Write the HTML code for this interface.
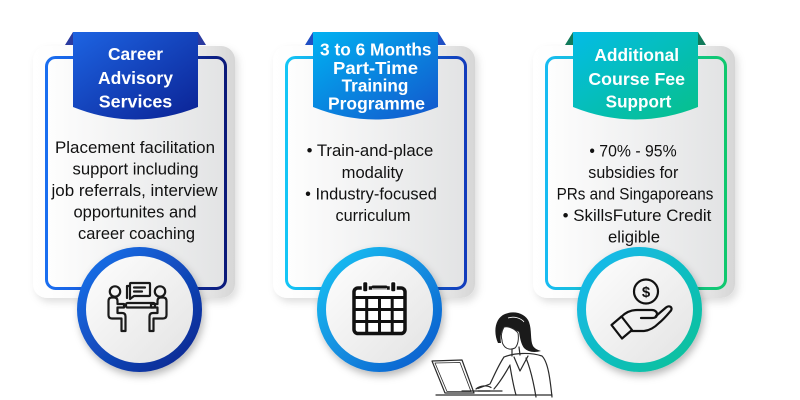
<!DOCTYPE html>
<html><head><meta charset="utf-8"><style>
html,body{margin:0;padding:0;background:#fff;}
svg{display:block;}
text{font-family:"Liberation Sans",Arial,sans-serif;}
</style></head><body>
<svg width="800" height="400" viewBox="0 0 800 400" xmlns="http://www.w3.org/2000/svg">
<defs>
  <linearGradient id="bp" x1="0" y1="0" x2="1" y2="0"><stop offset="0" stop-color="#ffffff"/><stop offset="0.55" stop-color="#f6f6f6"/><stop offset="0.85" stop-color="#e6e6e6"/><stop offset="1" stop-color="#d6d6d6"/></linearGradient>
  <linearGradient id="cf" x1="0" y1="0" x2="1" y2="0"><stop offset="0" stop-color="#fefefe"/><stop offset="1" stop-color="#e2e3e4"/></linearGradient>
  <linearGradient id="cif" x1="0" y1="0" x2="1" y2="1"><stop offset="0" stop-color="#ffffff"/><stop offset="1" stop-color="#e2e2e2"/></linearGradient>

  <linearGradient id="b1" x1="0" y1="0" x2="1" y2="0"><stop offset="0" stop-color="#1a6ef0"/><stop offset="0.55" stop-color="#1446c6"/><stop offset="1" stop-color="#0b1a7a"/></linearGradient>
  <linearGradient id="t1" x1="0" y1="0" x2="1" y2="1"><stop offset="0" stop-color="#1d64e2"/><stop offset="1" stop-color="#0b2294"/></linearGradient>
  <linearGradient id="r1" x1="0" y1="0" x2="1" y2="1"><stop offset="0" stop-color="#1a74ee"/><stop offset="1" stop-color="#0a238c"/></linearGradient>

  <linearGradient id="b2" x1="0" y1="0" x2="1" y2="0"><stop offset="0" stop-color="#14c6f6"/><stop offset="1" stop-color="#123cbc"/></linearGradient>
  <linearGradient id="t2" x1="0" y1="0" x2="1" y2="1"><stop offset="0" stop-color="#00b2f2"/><stop offset="1" stop-color="#1356cc"/></linearGradient>
  <linearGradient id="r2" x1="0" y1="0" x2="1" y2="1"><stop offset="0" stop-color="#14c4f4"/><stop offset="1" stop-color="#1058cc"/></linearGradient>

  <linearGradient id="b3" x1="0" y1="0" x2="1" y2="0"><stop offset="0" stop-color="#18bcf2"/><stop offset="1" stop-color="#10c86e"/></linearGradient>
  <linearGradient id="t3" x1="0" y1="0" x2="1" y2="1"><stop offset="0" stop-color="#04bce6"/><stop offset="1" stop-color="#06c08a"/></linearGradient>
  <linearGradient id="r3" x1="0" y1="0" x2="1" y2="1"><stop offset="0" stop-color="#1ab8f2"/><stop offset="1" stop-color="#05c296"/></linearGradient>

  <filter id="sh" x="-20%" y="-20%" width="140%" height="140%"><feDropShadow dx="3" dy="4" stdDeviation="4" flood-color="#000" flood-opacity="0.13"/></filter>
  <filter id="csh" x="-30%" y="-30%" width="160%" height="160%"><feDropShadow dx="2" dy="4" stdDeviation="4" flood-color="#000" flood-opacity="0.28"/></filter>
</defs>

<!-- CARD 1 -->
<g transform="translate(45,0)">
  <rect x="-12" y="46" width="202" height="252" rx="14" fill="url(#bp)" filter="url(#sh)"/>
  <rect x="1.5" y="57.5" width="179" height="231" rx="9" fill="url(#cf)" stroke="url(#b1)" stroke-width="3"/>
  <polygon points="20,45 28,32 28,45" fill="#2a3aa0"/>
  <polygon points="153,32 161,45 153,45" fill="#2a3aa0"/>
  <path d="M28,32 H153 V107 Q90.5,132 28,107 Z" fill="url(#t1)"/>
  <g fill="#fff" font-weight="bold" font-size="17.5" text-anchor="middle">
    <text x="90.5" y="60" textLength="55" lengthAdjust="spacingAndGlyphs">Career</text>
    <text x="90.5" y="84" textLength="75" lengthAdjust="spacingAndGlyphs">Advisory</text>
    <text x="90.5" y="107.5" textLength="73.5" lengthAdjust="spacingAndGlyphs">Services</text>
  </g>
  <g fill="#111" font-size="17" text-anchor="middle">
    <text x="90" y="153" textLength="160" lengthAdjust="spacingAndGlyphs">Placement facilitation</text>
    <text x="90.5" y="174.5" textLength="126" lengthAdjust="spacingAndGlyphs">support including</text>
    <text x="89.5" y="196" textLength="166" lengthAdjust="spacingAndGlyphs">job referrals, interview</text>
    <text x="90" y="217.5" textLength="123" lengthAdjust="spacingAndGlyphs">opportunites and</text>
    <text x="91.5" y="239" textLength="117" lengthAdjust="spacingAndGlyphs">career coaching</text>
  </g>
  <circle cx="94.5" cy="309.5" r="58" fill="url(#cif)" stroke="url(#r1)" stroke-width="9" filter="url(#csh)"/>
</g>

<!-- CARD 2 -->
<g transform="translate(285,0)">
  <rect x="-12" y="46" width="202" height="252" rx="14" fill="url(#bp)" filter="url(#sh)"/>
  <rect x="1.5" y="57.5" width="179" height="231" rx="9" fill="url(#cf)" stroke="url(#b2)" stroke-width="3"/>
  <polygon points="20,45 28,32 28,45" fill="#1f4fc4"/>
  <polygon points="153,32 161,45 153,45" fill="#1f4fc4"/>
  <path d="M28,32 H153 V107 Q90.5,132 28,107 Z" fill="url(#t2)"/>
  <g fill="#fff" font-weight="bold" font-size="17.5" text-anchor="middle">
    <text x="90.8" y="55.7" textLength="111.5" lengthAdjust="spacingAndGlyphs">3 to 6 Months</text>
    <text x="90.5" y="74" textLength="85" lengthAdjust="spacingAndGlyphs">Part-Time</text>
    <text x="90" y="91.7" textLength="66.7" lengthAdjust="spacingAndGlyphs">Training</text>
    <text x="91.5" y="109.3" textLength="97" lengthAdjust="spacingAndGlyphs">Programme</text>
  </g>
  <g fill="#111" font-size="17" text-anchor="middle">
    <text x="85" y="156" textLength="126.7" lengthAdjust="spacingAndGlyphs">• Train-and-place</text>
    <text x="87.5" y="178" textLength="61.7" lengthAdjust="spacingAndGlyphs">modality</text>
    <text x="86" y="199.5" textLength="131.7" lengthAdjust="spacingAndGlyphs">• Industry-focused</text>
    <text x="88" y="221" textLength="75" lengthAdjust="spacingAndGlyphs">curriculum</text>
  </g>
  <circle cx="94.5" cy="309.5" r="58" fill="url(#cif)" stroke="url(#r2)" stroke-width="9" filter="url(#csh)"/>
</g>

<!-- CARD 3 -->
<g transform="translate(545,0)">
  <rect x="-12" y="46" width="202" height="252" rx="14" fill="url(#bp)" filter="url(#sh)"/>
  <rect x="1.5" y="57.5" width="179" height="231" rx="9" fill="url(#cf)" stroke="url(#b3)" stroke-width="3"/>
  <polygon points="20,45 28,32 28,45" fill="#117a5a"/>
  <polygon points="153,32 161,45 153,45" fill="#117a5a"/>
  <path d="M28,32 H153 V107 Q90.5,132 28,107 Z" fill="url(#t3)"/>
  <g fill="#fff" font-weight="bold" font-size="17.5" text-anchor="middle">
    <text x="91.7" y="61" textLength="84.7" lengthAdjust="spacingAndGlyphs">Additional</text>
    <text x="91.7" y="85" textLength="96.7" lengthAdjust="spacingAndGlyphs">Course Fee</text>
    <text x="93.5" y="107.3" textLength="65.7" lengthAdjust="spacingAndGlyphs">Support</text>
  </g>
  <g fill="#111" font-size="17" text-anchor="middle">
    <text x="88" y="156.5" textLength="87.3" lengthAdjust="spacingAndGlyphs">• 70% - 95%</text>
    <text x="88.3" y="178" textLength="90" lengthAdjust="spacingAndGlyphs">subsidies for</text>
    <text x="90" y="199.5" textLength="156.7" lengthAdjust="spacingAndGlyphs">PRs and Singaporeans</text>
    <text x="92" y="221" textLength="148.7" lengthAdjust="spacingAndGlyphs">• SkillsFuture Credit</text>
    <text x="89" y="242.5" textLength="52" lengthAdjust="spacingAndGlyphs">eligible</text>
  </g>
  <circle cx="94.5" cy="309.5" r="58" fill="url(#cif)" stroke="url(#r3)" stroke-width="9" filter="url(#csh)"/>
</g>

<!-- ICON 1: people meeting -->
<g fill="none" stroke="#1a1a1a" stroke-width="2.2" stroke-linejoin="round" stroke-linecap="round">
  <circle cx="115" cy="291.5" r="5.2"/>
  <circle cx="160" cy="291.5" r="5.2"/>
  <path d="M108.5,301 Q108.5,297.5 112,297.5 H114 Q117.5,297.5 117.5,301 V304 H124 V307.5 H117.5 V313 H122 Q125.5,313 125.5,316.5 V331 H121.5 V318.5 H112 Q108.5,318.5 108.5,315 Z"/>
  <path transform="translate(275,0) scale(-1,1)" d="M108.5,301 Q108.5,297.5 112,297.5 H114 Q117.5,297.5 117.5,301 V304 H124 V307.5 H117.5 V313 H122 Q125.5,313 125.5,316.5 V331 H121.5 V318.5 H112 Q108.5,318.5 108.5,315 Z"/>
  <rect x="126" y="303" width="29" height="4.5" rx="1.5"/>
  <path d="M131,283 H149 Q150,283 150,284 V295 Q150,296 149,296 H134 L130,299 V284 Q130,283 131,283 Z"/>
  <path d="M129,286 H127 V298"/>
  <path d="M134,287.5 H145 M134,291.5 H142"/>
</g>

<!-- ICON 2: calendar -->
<g>
  <rect x="354" y="288" width="51" height="45.5" rx="4" fill="#fff" stroke="#111" stroke-width="3.5"/>
  <line x1="354" y1="297.5" x2="405" y2="297.5" stroke="#111" stroke-width="3"/>
  <g stroke="#111" stroke-width="3">
    <line x1="366.7" y1="297" x2="366.7" y2="333"/>
    <line x1="379.5" y1="297" x2="379.5" y2="333"/>
    <line x1="392.2" y1="297" x2="392.2" y2="333"/>
    <line x1="354" y1="309.5" x2="405" y2="309.5"/>
    <line x1="354" y1="321.5" x2="405" y2="321.5"/>
  </g>
  <rect x="362.5" y="281.5" width="5.5" height="10.5" rx="2" fill="#111" stroke="#fff" stroke-width="1.5"/>
  <rect x="390.5" y="281.5" width="5.5" height="10.5" rx="2" fill="#111" stroke="#fff" stroke-width="1.5"/>
  <line x1="372" y1="287.5" x2="387" y2="287.5" stroke="#fff" stroke-width="4"/>
  <line x1="373" y1="287" x2="386" y2="287" stroke="#111" stroke-width="3" stroke-linecap="round"/>
</g>

<!-- ICON 3: hand with coin -->
<g fill="none" stroke="#111" stroke-width="2.2" stroke-linejoin="round" stroke-linecap="round">
  <circle cx="646" cy="291.5" r="12"/>
  <polygon points="611.5,325 621.5,316.5 632,330 622,338.5"/>
  <path d="M621,317 C626,312 631,310 637,310 L652,310 C655,310 657,312 657,314 C657,317 655,318 652,318 L641,318"/>
  <path d="M656,316 L666,307.5 C669,305 673,307 671,310.5 C668,314 664,319 659,323 C655,327 650,330.5 644,331 L631,331"/>
</g>
<text x="646" y="297" font-size="15" font-weight="bold" fill="#111" text-anchor="middle">$</text>

<!-- Woman with laptop -->
<g fill="none" stroke="#2a2a2a" stroke-width="1.2" stroke-linejoin="round" stroke-linecap="round">
  <polygon points="432,361 462,360 474,393 445,393"/>
  <polygon points="435,363 460,362.5 471,391.5 447,391.5" stroke-width="0.8"/>
  <line x1="436" y1="395" x2="552" y2="395"/>
  <line x1="462" y1="391" x2="502" y2="391"/>
  <path d="M504,357 C498,366 494,376 490,384 L478,388.5"/>
  <path d="M510,365 C505,374 500,382 494,389"/>
  <path d="M476,389 C480,385.5 487,385 491,387.5 M478,391 L490,391"/>
  <path d="M504,357 C514,353 530,352 542,356 C548,362 550,378 552,397"/>
  <path d="M512,349 L512,356 M519,347 L520,355"/>
  <path d="M514,357 L520,371 L528,356"/>
  <path d="M526,358 C531,370 534,385 536,397"/>
  <path d="M510,366 C512,378 514,388 516,395"/>
</g>
<path d="M498,343 C493,332 495,318 505,314 C515,310 526,314 529,322 C532,330 530,340 533,346 C535,349 538,350 541,351 C534,353 528,352 524,348 C521,344 520,338 519,332 C515,330 509,327 504,327 C501,331 500,337 501,343 Z" fill="#1a1a1a"/>
<path d="M504,327 C509,326 515,329 518,333 C519,339 518,345 515,348 C511,350 507,349 505,347 C503,345 502,343 502,340 C501,337 501,332 504,327 Z" fill="#fff" stroke="#2a2a2a" stroke-width="1"/>
<path d="M508,318 C514,316 521,318 524,322" fill="none" stroke="#fff" stroke-width="0.8"/>
</svg>
</body></html>
